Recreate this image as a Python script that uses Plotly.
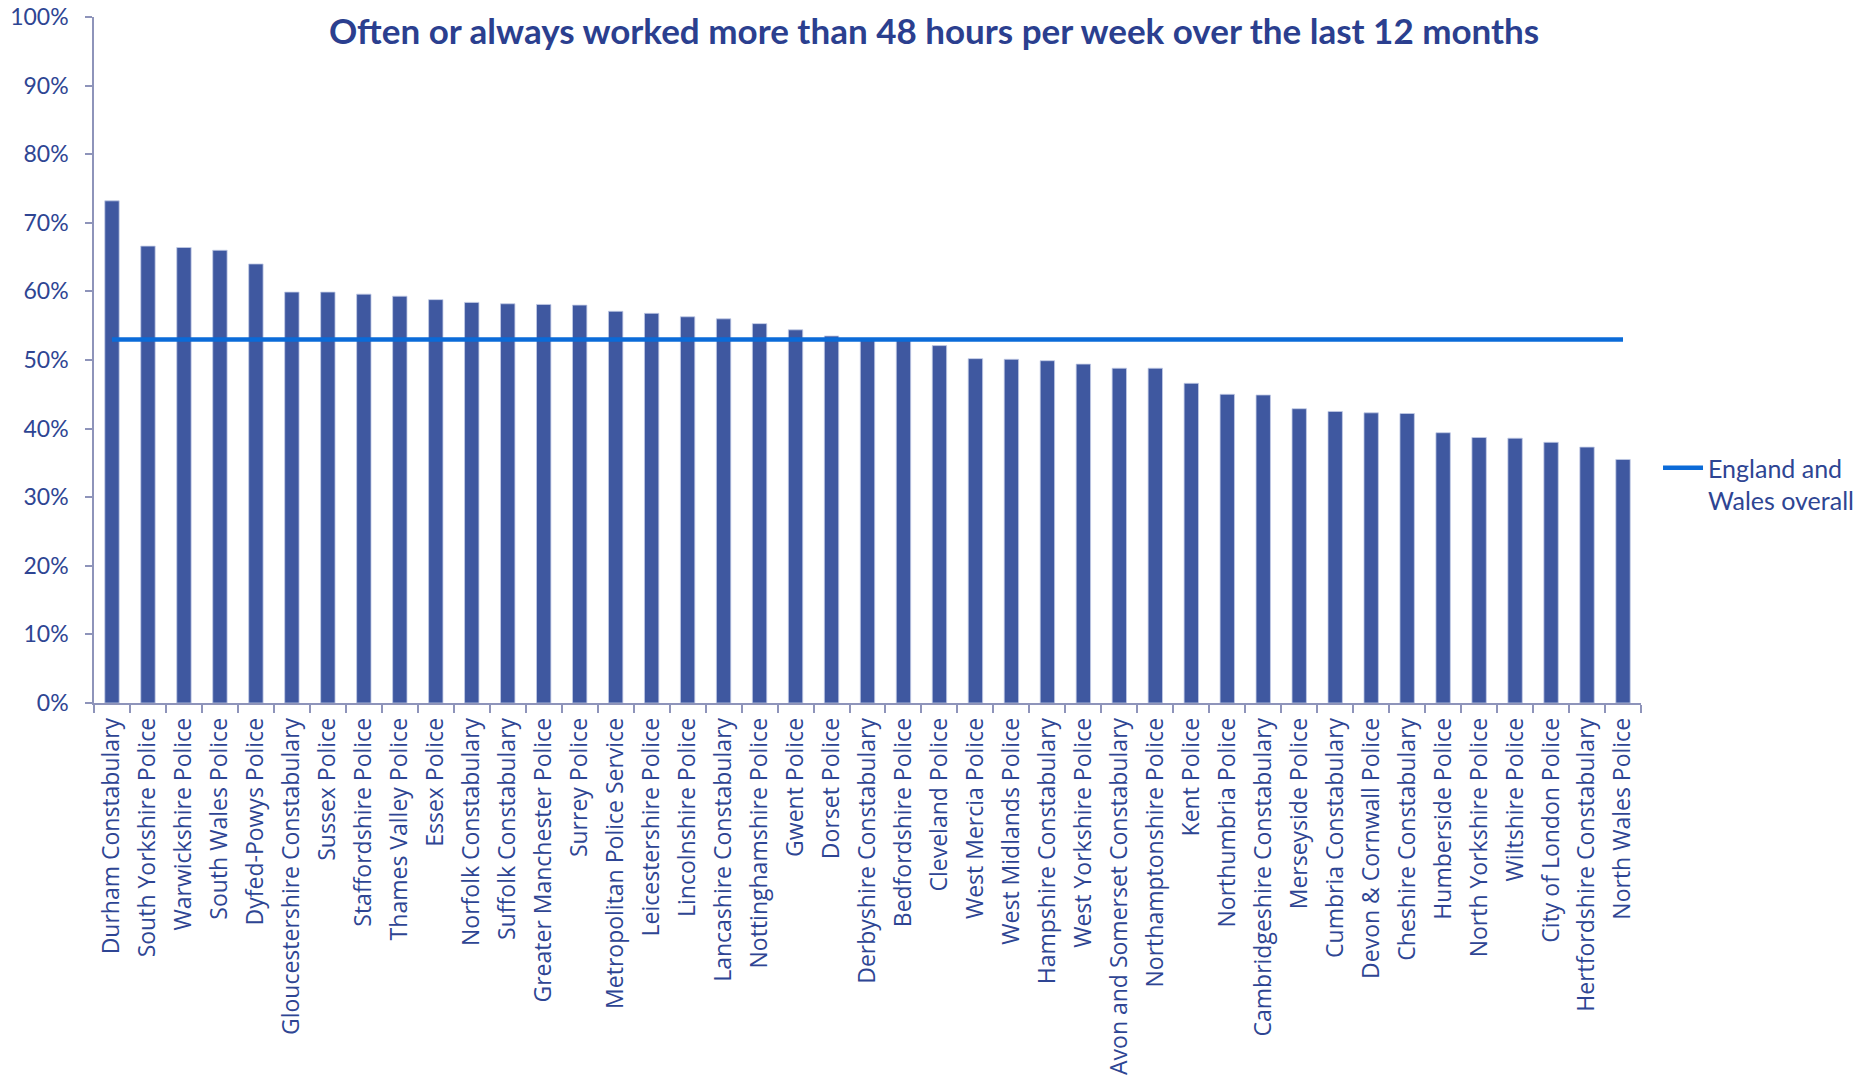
import plotly.graph_objects as go

forces = [
    "Durham Constabulary", "South Yorkshire Police", "Warwickshire Police", "South Wales Police",
    "Dyfed-Powys Police", "Gloucestershire Constabulary", "Sussex Police", "Staffordshire Police",
    "Thames Valley Police", "Essex Police", "Norfolk Constabulary", "Suffolk Constabulary",
    "Greater Manchester Police", "Surrey Police", "Metropolitan Police Service", "Leicestershire Police",
    "Lincolnshire Police", "Lancashire Constabulary", "Nottinghamshire Police", "Gwent Police",
    "Dorset Police", "Derbyshire Constabulary", "Bedfordshire Police", "Cleveland Police",
    "West Mercia Police", "West Midlands Police", "Hampshire Constabulary", "West Yorkshire Police",
    "Avon and Somerset Constabulary", "Northamptonshire Police", "Kent Police", "Northumbria Police",
    "Cambridgeshire Constabulary", "Merseyside Police", "Cumbria Constabulary", "Devon & Cornwall Police",
    "Cheshire Constabulary", "Humberside Police", "North Yorkshire Police", "Wiltshire Police",
    "City of London Police", "Hertfordshire Constabulary", "North Wales Police",
]

pct_48h = [
    73.2, 66.6, 66.4, 66.0,
    64.0, 59.9, 59.9, 59.6,
    59.3, 58.8, 58.4, 58.2,
    58.1, 58.0, 57.1, 56.8,
    56.3, 56.0, 55.3, 54.4,
    53.5, 53.0, 52.9, 52.1,
    50.2, 50.1, 49.9, 49.4,
    48.8, 48.8, 46.6, 45.0,
    44.9, 42.9, 42.5, 42.3,
    42.2, 39.4, 38.7, 38.6,
    38.0, 37.3, 35.5,
]

overall_label = "England and<br>Wales overall"
overall_value = 53.0

y_ticks = [0, 10, 20, 30, 40, 50, 60, 70, 80, 90, 100]
y_tick_labels = ["0%", "10%", "20%", "30%", "40%", "50%", "60%", "70%", "80%", "90%", "100%"]
title_text = "Often or always worked more than 48 hours per week over the last 12 months"

BAR = "#3F58A0"
LINE = "#0B6BD8"
TXT = "#2E4593"
AXIS = "#8E94BA"

fig = go.Figure()
fig.add_trace(go.Bar(
    x=forces, y=pct_48h, marker=dict(color=BAR, line=dict(color="#C3CBE6", width=0.8)),
    showlegend=False, name="Force",
))
fig.add_trace(go.Scatter(
    x=forces, y=[overall_value] * len(forces), mode="lines",
    line=dict(color=LINE, width=4.5), name=overall_label, showlegend=True,
))

fig.update_layout(
    width=1872, height=1084,
    margin=dict(l=94, r=231, t=17, b=381, pad=0, autoexpand=False),
    paper_bgcolor="white", plot_bgcolor="white",
    bargap=0.6,
    title=dict(text="<b>" + title_text + "</b>", x=0.499, xref="container", y=1 - 32 / 1084,
               yref="container", xanchor="center", yanchor="middle", automargin=False,
               font=dict(family="Lato", size=35, color="#2B3F8F")),
    legend=dict(x=1.011, xanchor="left", y=0.376, yanchor="top",
                valign="top", font=dict(family="Lato", size=25, color=TXT),
                bgcolor="rgba(0,0,0,0)", itemwidth=40, tracegroupgap=0),
    font=dict(family="Lato", color=TXT),
)
fig.update_yaxes(
    range=[0, 100], tickvals=y_ticks, ticktext=y_tick_labels, showgrid=False, zeroline=False,
    showline=True, linecolor=AXIS, linewidth=1.5, ticks="outside", ticklen=7, tickcolor=AXIS,
    tickwidth=1.5, tickfont=dict(family="Lato", size=23, color=TXT), ticklabelstandoff=12,
    fixedrange=True, automargin=False,
)
fig.update_xaxes(
    type="category", tickangle=-90, showgrid=False, zeroline=False, showline=True,
    linecolor=AXIS, linewidth=1.5, ticks="outside", ticklen=8, tickcolor=AXIS, tickwidth=1.5,
    tickson="boundaries", tickfont=dict(family="Open Sans", size=23, color=TXT),
    ticklabelstandoff=4, fixedrange=True, automargin=False,
)

fig.write_html("out.html", post_script="document.body.style.margin='0';", config={"displayModeBar": False})
